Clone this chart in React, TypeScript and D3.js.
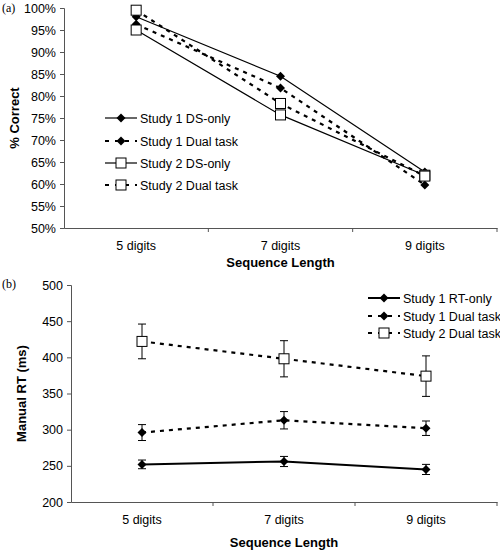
import React, { useEffect, useRef } from 'react';
import * as d3 from 'd3';

const categories = ['5 digits', '7 digits', '9 digits'];

// Panel (a): % correct
const accTicks = [0.5, 0.55, 0.6, 0.65, 0.7, 0.75, 0.8, 0.85, 0.9, 0.95, 1.0];
const s1DsOnly = [0.98, 0.845, 0.627];
const s1Dual = [0.963, 0.818, 0.598];
const s2DsOnly = [0.95, 0.757, 0.62];
const s2Dual = [0.995, 0.783, 0.618];

// Panel (b): manual RT with error bars
const rtTicks = [200, 250, 300, 350, 400, 450, 500];
const s1RtOnly = [252, 256, 245];
const s1RtOnlyErr = [6, 7, 7];
const s1RtDual = [296, 313, 302];
const s1RtDualErr = [11, 12, 10];
const s2RtDual = [422, 398, 374];
const s2RtDualErr = [24, 25, 28];

type Series = { name: string; values: number[]; err?: number[]; dashed: boolean; marker: 'diamond' | 'square'; width: number };

const panelA: Series[] = [
  { name: 'Study 1 DS-only', values: s1DsOnly, dashed: false, marker: 'diamond', width: 1.2 },
  { name: 'Study 1 Dual task', values: s1Dual, dashed: true, marker: 'diamond', width: 2.2 },
  { name: 'Study 2 DS-only', values: s2DsOnly, dashed: false, marker: 'square', width: 1.2 },
  { name: 'Study 2 Dual task', values: s2Dual, dashed: true, marker: 'square', width: 2.2 },
];
const panelB: Series[] = [
  { name: 'Study 1 RT-only', values: s1RtOnly, err: s1RtOnlyErr, dashed: false, marker: 'diamond', width: 2 },
  { name: 'Study 1 Dual task', values: s1RtDual, err: s1RtDualErr, dashed: true, marker: 'diamond', width: 2.2 },
  { name: 'Study 2 Dual task', values: s2RtDual, err: s2RtDualErr, dashed: true, marker: 'square', width: 2.2 },
];

const FONT = 'Liberation Sans, Arial, sans-serif';

function drawMarker(g: d3.Selection<SVGGElement, unknown, null, undefined>, kind: string, x: number, y: number) {
  if (kind === 'diamond') {
    g.append('path').attr('d', `M${x},${y - 4.5}L${x + 4.5},${y}L${x},${y + 4.5}L${x - 4.5},${y}Z`).attr('fill', '#000');
  } else {
    g.append('rect').attr('x', x - 5).attr('y', y - 5).attr('width', 10).attr('height', 10)
      .attr('fill', '#fff').attr('stroke', '#000').attr('stroke-width', 1);
  }
}

function drawPanel(
  svg: d3.Selection<SVGSVGElement, unknown, null, undefined>,
  opts: { left: number; right: number; top: number; bottom: number; domain: [number, number]; ticks: number[];
    fmt: (v: number) => string; ylabel: string; series: Series[]; legendX: number; legendY: number[]; tag: string; tagY: number;
    labelPad: number; titleOff: number }
) {
  const g = svg.append('g').attr('font-family', FONT);
  const x = d3.scaleBand<string>().domain(categories).range([opts.left, opts.right]);
  const y = d3.scaleLinear().domain(opts.domain).range([opts.bottom, opts.top]);

  g.append('text').attr('x', 2).attr('y', opts.tagY).attr('font-family', 'Liberation Serif, serif').attr('font-size', 12).text(opts.tag);

  const yAxis = g.append('g').attr('transform', `translate(${opts.left},0)`)
    .call(d3.axisLeft(y).tickValues(opts.ticks).tickFormat(d => opts.fmt(d as number)).tickSize(4).tickPadding(4));
  const xAxis = g.append('g').attr('transform', `translate(0,${opts.bottom})`)
    .call(d3.axisBottom(x).tickSize(0).tickPadding(opts.labelPad));
  [yAxis, xAxis].forEach(a => {
    a.selectAll('text').attr('font-size', 12.5).attr('font-family', FONT).attr('fill', '#000');
    a.select('.domain').attr('stroke', '#555');
    a.selectAll('line').attr('stroke', '#555');
  });
  // category boundary ticks
  const bounds = [opts.left + x.step(), opts.left + 2 * x.step(), opts.right];
  bounds.forEach(b => g.append('line').attr('x1', b).attr('x2', b).attr('y1', opts.bottom).attr('y2', opts.bottom + 4).attr('stroke', '#555'));

  g.append('text').attr('x', (opts.left + opts.right) / 2).attr('y', opts.bottom + opts.titleOff).attr('text-anchor', 'middle')
    .attr('font-weight', 'bold').attr('font-size', 13).text('Sequence Length');
  g.append('text').attr('transform', `translate(${opts.left - 45},${(opts.top + opts.bottom) / 2}) rotate(-90)`)
    .attr('text-anchor', 'middle').attr('font-weight', 'bold').attr('font-size', 13).text(opts.ylabel);

  const cx = (c: string) => x(c)! + x.bandwidth() / 2;
  const line = d3.line<number>().x((_, i) => cx(categories[i])).y(v => y(v));

  opts.series.forEach(s => {
    if (s.err) {
      s.values.forEach((v, i) => {
        const px = cx(categories[i]);
        const e = s.err![i];
        g.append('line').attr('x1', px).attr('x2', px).attr('y1', y(v - e)).attr('y2', y(v + e)).attr('stroke', '#000');
        [v - e, v + e].forEach(t => g.append('line').attr('x1', px - 4).attr('x2', px + 4).attr('y1', y(t)).attr('y2', y(t)).attr('stroke', '#000'));
      });
    }
    g.append('path').datum(s.values).attr('d', line).attr('fill', 'none').attr('stroke', '#000')
      .attr('stroke-width', s.width).attr('stroke-dasharray', s.dashed ? '4,5' : null);
  });
  opts.series.forEach(s => s.values.forEach((v, i) => drawMarker(g, s.marker, cx(categories[i]), y(v))));

  opts.series.forEach((s, i) => {
    const ly = opts.legendY[i];
    g.append('line').attr('x1', opts.legendX).attr('x2', opts.legendX + 32).attr('y1', ly).attr('y2', ly)
      .attr('stroke', '#000').attr('stroke-width', s.width).attr('stroke-dasharray', s.dashed ? '4,6' : null);
    drawMarker(g, s.marker, opts.legendX + 16, ly);
    g.append('text').attr('x', opts.legendX + 35).attr('y', ly + 4.5).attr('font-size', 12.5).text(s.name);
  });
}

const App: React.FC = () => {
  const ref = useRef<SVGSVGElement>(null);
  useEffect(() => {
    if (!ref.current) return;
    const svg = d3.select(ref.current);
    svg.selectAll('*').remove();
    drawPanel(svg, {
      left: 64, right: 497, top: 8, bottom: 228, domain: [0.5, 1], ticks: accTicks,
      fmt: d3.format('.0%'), ylabel: '% Correct', series: panelA,
      legendX: 105, legendY: [118, 141, 163, 185], tag: '(a)', tagY: 12, labelPad: 13, titleOff: 39,
    });
    drawPanel(svg, {
      left: 71, right: 497, top: 285, bottom: 502, domain: [200, 500], ticks: rtTicks,
      fmt: d3.format('d'), ylabel: 'Manual RT (ms)', series: panelB,
      legendX: 368, legendY: [298, 316, 333], tag: '(b)', tagY: 288, labelPad: 13, titleOff: 45,
    });
  }, []);
  return (
    <svg ref={ref} width={500} height={550}
      style={{ position: 'absolute', left: 0, top: 0, background: '#fff' }} />
  );
};

export default App;
